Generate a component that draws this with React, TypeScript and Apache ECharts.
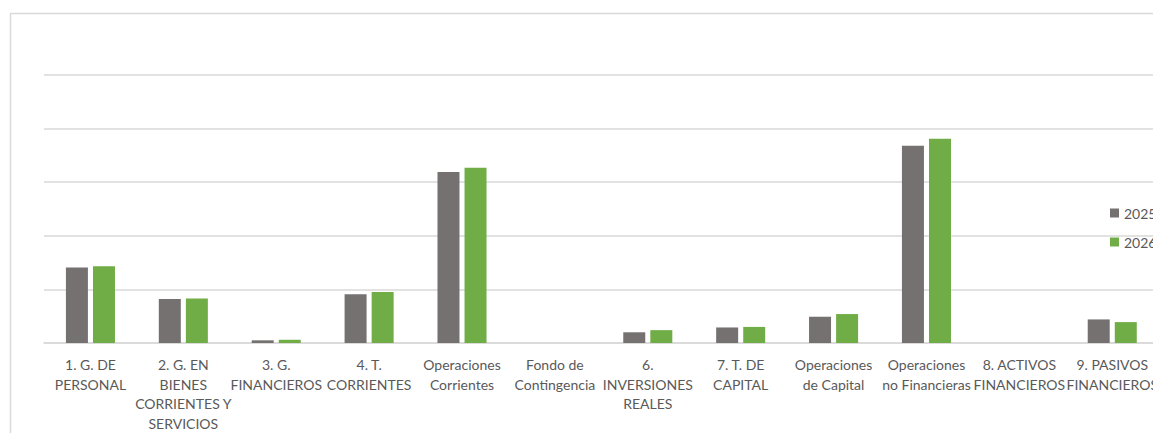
import React, { useEffect, useRef } from "react";
import * as echarts from "echarts";

const categories = [
  "1. G. DE\nPERSONAL",
  "2. G. EN\nBIENES\nCORRIENTES Y\nSERVICIOS",
  "3. G.\nFINANCIEROS",
  "4. T.\nCORRIENTES",
  "Operaciones\nCorrientes",
  "Fondo de\nContingencia",
  "6.\nINVERSIONES\nREALES",
  "7. T. DE\nCAPITAL",
  "Operaciones\nde Capital",
  "Operaciones\nno Financieras",
  "8. ACTIVOS\nFINANCIEROS",
  "9. PASIVOS\nFINANCIEROS",
];

const values2025 = [141, 82, 5, 91, 319, 0, 20, 29, 49, 368, 0, 44];
const values2026 = [143, 83, 6, 95, 327, 0, 24, 30, 54, 381, 0, 39];

const FONT = "Lato, 'Open Sans', sans-serif";

export default function App() {
  const ref = useRef<HTMLDivElement>(null);
  useEffect(() => {
    if (!ref.current) return;
    document.documentElement.style.overflow = "hidden";
    document.body.style.overflow = "hidden";
    const chart = echarts.init(ref.current, undefined, { renderer: "svg" });
    chart.setOption({
      animation: false,
      backgroundColor: "#ffffff",
      textStyle: { fontFamily: FONT },
      graphic: [
        {
          type: "rect",
          left: 0,
          top: 3,
          shape: { width: 1300, height: 600 },
          style: { fill: "none", stroke: "#d9d9d9", lineWidth: 1.5 },
          silent: true,
        },
      ],
      grid: { left: 36, right: 2, top: 67, bottom: 85, containLabel: false },
      legend: {
        orient: "vertical",
        left: 1102,
        top: 198,
        padding: 0,
        itemWidth: 9,
        itemHeight: 9,
        itemGap: 15,
        icon: "rect",
        textStyle: { color: "#595959", fontSize: 14, fontFamily: FONT },
        data: ["2025", "2026"],
      },
      xAxis: {
        type: "category",
        data: categories,
        axisLine: { lineStyle: { color: "#d9d9d9", width: 1.5 } },
        axisTick: { show: false },
        axisLabel: {
          interval: 0,
          color: "#595959",
          fontSize: 14,
          lineHeight: 19.5,
          margin: 12,
          fontFamily: FONT,
        },
      },
      yAxis: {
        type: "value",
        min: 0,
        max: 500,
        interval: 100,
        axisLabel: { show: false },
        axisLine: { show: false },
        axisTick: { show: false },
        splitLine: { lineStyle: { color: "#d9d9d9", width: 1.5 } },
      },
      series: [
        {
          name: "2025",
          type: "bar",
          data: values2025,
          barWidth: 22,
          barGap: "23%",
          itemStyle: { color: "#757171" },
        },
        {
          name: "2026",
          type: "bar",
          data: values2026,
          barWidth: 22,
          itemStyle: { color: "#70ad47" },
        },
      ],
    });
    return () => chart.dispose();
  }, []);
  return <div ref={ref} style={{ width: 1153, height: 425 }} />;
}
